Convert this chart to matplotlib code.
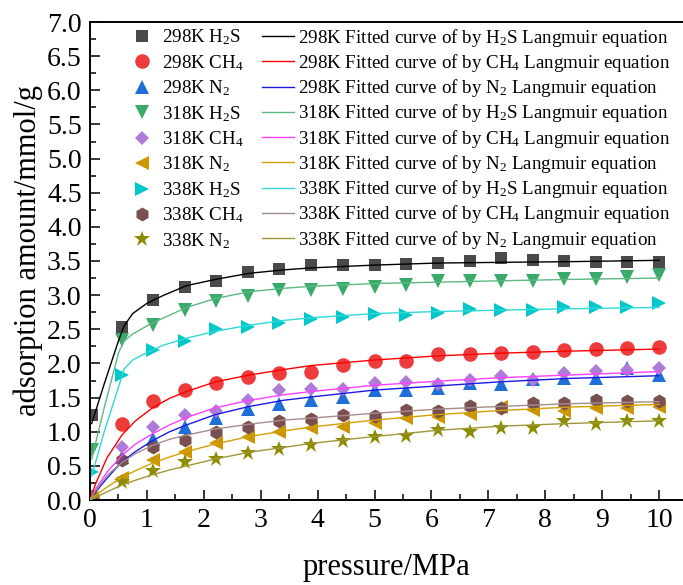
import matplotlib
matplotlib.use("Agg")
import matplotlib.pyplot as plt
from matplotlib.ticker import MultipleLocator

plt.rcParams['font.family'] = ['Liberation Serif', 'DejaVu Serif']
plt.rcParams['mathtext.fontset'] = 'custom'
plt.rcParams['mathtext.rm'] = 'Liberation Serif'
plt.rcParams['mathtext.it'] = 'Liberation Serif:italic'

# measured isotherm points (pressure in MPa, uptake in mmol/g)
pressure = [0.04, 0.56, 1.11, 1.67, 2.22, 2.78, 3.33, 3.89, 4.44, 5.0,
            5.56, 6.11, 6.67, 7.22, 7.78, 8.33, 8.89, 9.44, 10.0]

h2s_298 = [1.25, 2.54, 2.93, 3.12, 3.21, 3.34, 3.38, 3.44, 3.44, 3.44,
           3.46, 3.47, 3.50, 3.55, 3.51, 3.50, 3.49, 3.49, 3.49]
ch4_298 = [0.05, 1.12, 1.45, 1.61, 1.72, 1.80, 1.86, 1.88, 1.98, 2.03,
           2.04, 2.14, 2.14, 2.16, 2.17, 2.20, 2.21, 2.22, 2.24]
n2_298 = [0.04, 0.63, 0.90, 1.07, 1.20, 1.33, 1.41, 1.46, 1.51, 1.61,
          1.61, 1.64, 1.71, 1.70, 1.77, 1.78, 1.78, 1.93, 1.83]
h2s_318 = [0.73, 2.34, 2.56, 2.78, 2.92, 2.99, 3.07, 3.07, 3.09, 3.12,
           3.15, 3.20, 3.21, 3.21, 3.20, 3.23, 3.23, 3.27, 3.29]
ch4_318 = [0.05, 0.78, 1.07, 1.24, 1.31, 1.46, 1.61, 1.62, 1.62, 1.72,
           1.73, 1.70, 1.76, 1.82, 1.76, 1.86, 1.89, 1.90, 1.93]
n2_318 = [0.03, 0.32, 0.58, 0.71, 0.84, 0.92, 1.00, 1.05, 1.07, 1.13,
          1.20, 1.22, 1.26, 1.36, 1.32, 1.31, 1.34, 1.34, 1.36]
h2s_338 = [0.41, 1.83, 2.20, 2.33, 2.50, 2.53, 2.59, 2.65, 2.68, 2.72,
           2.71, 2.74, 2.79, 2.78, 2.78, 2.83, 2.82, 2.83, 2.89]
ch4_338 = [0.04, 0.58, 0.77, 0.88, 1.00, 1.07, 1.15, 1.18, 1.24, 1.23,
           1.32, 1.31, 1.37, 1.34, 1.42, 1.42, 1.47, 1.45, 1.45]
n2_338 = [0.03, 0.27, 0.43, 0.56, 0.60, 0.69, 0.74, 0.81, 0.87, 0.92,
          0.94, 1.03, 1.00, 1.06, 1.06, 1.16, 1.12, 1.15, 1.15]

# Langmuir fitted curves
fit_p_h2s = [0.03, 0.25, 0.5, 0.6, 0.75, 1.0, 1.3, 1.7, 2.2, 2.8,
             3.4, 3.9, 5.0, 6.1, 7.2, 8.4, 10.0]
fit_h2s_298 = [1.12, 1.70, 2.33, 2.55, 2.73, 2.88, 3.00, 3.14, 3.23, 3.32,
               3.37, 3.40, 3.44, 3.47, 3.48, 3.49, 3.51]
fit_h2s_318 = [0.60, 1.35, 2.15, 2.33, 2.43, 2.55, 2.67, 2.82, 2.95, 3.05,
               3.10, 3.13, 3.17, 3.19, 3.21, 3.23, 3.25]
fit_h2s_338 = [0.35, 1.00, 1.65, 1.92, 2.05, 2.16, 2.27, 2.37, 2.47, 2.56,
               2.63, 2.67, 2.73, 2.76, 2.78, 2.80, 2.82]

fit_p = [0, 0.1, 0.3, 0.56, 0.8, 1.1, 1.4, 1.7, 2.2, 2.8,
         3.4, 3.9, 5.0, 6.1, 7.2, 8.4, 10.0]
fit_ch4_298 = [0, 0.24, 0.62, 0.95, 1.16, 1.35, 1.49, 1.59, 1.73, 1.83,
               1.91, 1.97, 2.05, 2.11, 2.15, 2.18, 2.21]
fit_n2_298 = [0, 0.12, 0.32, 0.56, 0.71, 0.87, 1.00, 1.10, 1.25, 1.37,
              1.46, 1.51, 1.61, 1.67, 1.73, 1.78, 1.82]
fit_ch4_318 = [0, 0.16, 0.41, 0.65, 0.82, 0.97, 1.10, 1.21, 1.35, 1.46,
               1.54, 1.59, 1.68, 1.74, 1.79, 1.83, 1.88]
fit_n2_318 = [0, 0.07, 0.19, 0.33, 0.43, 0.54, 0.63, 0.71, 0.82, 0.93,
              1.01, 1.07, 1.17, 1.25, 1.31, 1.36, 1.40]
fit_ch4_338 = [0, 0.14, 0.36, 0.55, 0.68, 0.80, 0.89, 0.95, 1.04, 1.11,
               1.17, 1.20, 1.27, 1.33, 1.37, 1.41, 1.44]
fit_n2_338 = [0, 0.04, 0.12, 0.22, 0.29, 0.37, 0.44, 0.50, 0.60, 0.70,
              0.77, 0.83, 0.93, 1.02, 1.08, 1.12, 1.16]

names = ['298K H$_2$S', '298K CH$_4$', '298K N$_2$',
         '318K H$_2$S', '318K CH$_4$', '318K N$_2$',
         '338K H$_2$S', '338K CH$_4$', '338K N$_2$']
gas_names = ['H$_2$S', 'CH$_4$', 'N$_2$'] * 3
temps = ['298K'] * 3 + ['318K'] * 3 + ['338K'] * 3

measured = [h2s_298, ch4_298, n2_298, h2s_318, ch4_318, n2_318, h2s_338, ch4_338, n2_338]
fits = [(fit_p_h2s, fit_h2s_298), (fit_p, fit_ch4_298), (fit_p, fit_n2_298),
        (fit_p_h2s, fit_h2s_318), (fit_p, fit_ch4_318), (fit_p, fit_n2_318),
        (fit_p_h2s, fit_h2s_338), (fit_p, fit_ch4_338), (fit_p, fit_n2_338)]

markers = ['s', 'o', '^', 'v', 'D', '<', '>', 'h', '*']
msizes = [8.5, 10.5, 10, 10, 7.5, 10, 10, 10, 12]
marker_colors = ['#4a4a4a', '#ee3c3c', '#1f6fd9', '#3aaa6a', '#b07ad8',
                 '#cc9600', '#00c8c8', '#7a4f4f', '#8c8c00']
line_colors = ['#000000', '#ff0000', '#1a1ae6', '#5cb882', '#ff40ff',
               '#d4a000', '#30d8d8', '#a88c8c', '#a09838']

fig = plt.figure(figsize=(6.83, 5.85), dpi=100)
ax = fig.add_axes([90 / 683, 85 / 585, 593 / 683, 478 / 585])

pt_handles = []
fit_handles = []
for i in range(9):
    h, = ax.plot(pressure, measured[i], linestyle='none', marker=markers[i],
                 markersize=msizes[i], color=marker_colors[i],
                 markeredgewidth=0, zorder=2, label=names[i])
    pt_handles.append(h)
for i in range(9):
    fp, fq = fits[i]
    lbl = temps[i] + ' Fitted curve of by ' + gas_names[i] + ' Langmuir equation'
    h, = ax.plot(fp, fq, color=line_colors[i], linewidth=1.0, zorder=3, label=lbl)
    fit_handles.append(h)

ax.set_xlim(0, 593 / 56.9)
ax.set_ylim(0, 7.0)
ax.xaxis.set_major_locator(MultipleLocator(1))
ax.xaxis.set_minor_locator(MultipleLocator(0.5))
ax.yaxis.set_major_locator(MultipleLocator(0.5))
ax.yaxis.set_minor_locator(MultipleLocator(0.25))
ax.yaxis.set_major_formatter(matplotlib.ticker.FormatStrFormatter('%.1f'))
ax.tick_params(which='both', direction='in', top=False, right=False,
               labelsize=20, width=1.1)
ax.tick_params(which='major', length=7.5, pad=6)
ax.tick_params(which='minor', length=4.5)
ax.spines['right'].set_visible(False)
for s in ['left', 'bottom', 'top']:
    ax.spines[s].set_linewidth(1.4)

ax.set_xlabel('pressure/MPa', fontsize=22, labelpad=14)
ax.set_ylabel('adsorption amount/mmol/g', fontsize=22)
ax.yaxis.set_label_coords(-0.08, 0.523)

# two legend columns kept as separate legends so their row pitch matches
leg_style = dict(loc='upper left', frameon=False, fontsize=13.7,
                 handlelength=1.7, handletextpad=0.2, borderpad=0,
                 borderaxespad=0, numpoints=1)
leg1 = ax.legend(handles=pt_handles, bbox_to_anchor=(36 / 593, 0.988),
                 labelspacing=0.30, **leg_style)
ax.add_artist(leg1)
ax.legend(handles=fit_handles, bbox_to_anchor=(172 / 593, 0.990),
          labelspacing=0.17, **leg_style)

fig.savefig('out.png', dpi=100)
